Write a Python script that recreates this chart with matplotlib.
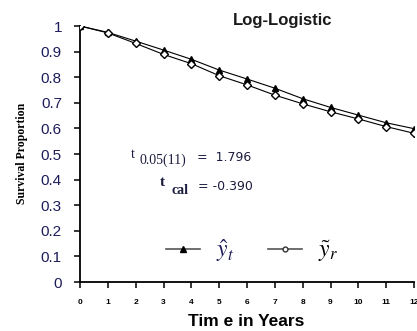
import numpy as np
import matplotlib
matplotlib.use("Agg")
import matplotlib.pyplot as plt
from matplotlib.lines import Line2D

plt.rcParams['font.family'] = ['Liberation Sans', 'DejaVu Sans']
plt.rcParams['mathtext.fontset'] = 'stix'

years = [0, 1, 2, 3, 4, 5, 6, 7, 8, 9, 10, 11, 12]
y_hat = [1.0, 0.975, 0.941, 0.906, 0.870, 0.828, 0.793, 0.757, 0.716, 0.682, 0.652, 0.622, 0.599]
y_tilde = [1.0, 0.973, 0.932, 0.889, 0.853, 0.806, 0.770, 0.730, 0.696, 0.665, 0.637, 0.607, 0.581]
y_ticks = [0, 0.1, 0.2, 0.3, 0.4, 0.5, 0.6, 0.7, 0.8, 0.9, 1]
t_table = "1.796"
t_cal = "-0.390"

W, H = 417, 331
fig = plt.figure(figsize=(W / 100, H / 100), dpi=100)
ax = fig.add_axes([80 / W, 1 - 282 / H, 334 / W, 256 / H])

ax.plot(years, y_hat, color='black', lw=0.8, marker='^', ms=5,
        markerfacecolor='black', markeredgecolor='black', zorder=3)
ax.plot(years, y_tilde, color='black', lw=0.8, marker='D', ms=4,
        markerfacecolor='white', markeredgecolor='black', zorder=3)

ax.set_xlim(0, 12)
ax.set_ylim(0, 1)
ax.set_xticks(years)
ax.set_yticks(y_ticks)
ax.set_yticklabels([f"{v:g}" for v in y_ticks])
ax.spines['top'].set_visible(False)
ax.spines['right'].set_visible(False)
ax.spines['left'].set_linewidth(1.3)
ax.spines['bottom'].set_linewidth(1.3)
ax.tick_params(axis='y', direction='out', length=4, width=1.1,
               labelsize=11, labelcolor='#1c1c5a', pad=9)
ax.tick_params(axis='x', direction='out', length=4, width=1.1,
               labelsize=6, pad=8)
for lab in ax.get_xticklabels():
    lab.set_fontweight('bold')
ax.patch.set_alpha(0)

fig.text(22 / W, 1 - 153 / H, 'Survival Proportion', rotation=90, ha='center', va='center',
         fontsize=8.5, fontweight='bold', family='Liberation Serif')
fig.text(246 / W, 1 - 322 / H, 'Tim e in Years', ha='center', va='center',
         fontsize=12.5, fontweight='bold')
fig.text(283 / W, 1 - 20 / H, 'Log-Logistic', ha='center', va='center',
         fontsize=12, fontweight='bold', color='#1a1a1a')

# t statistics
tc = '#1c1c40'
fig.text(131 / W, 1 - 158 / H, 't', fontsize=10, family='Liberation Serif',
         color=tc, va='baseline')
fig.text(139 / W, 1 - 164 / H, '0.05(11)', fontsize=10, family='Liberation Serif',
         color=tc, va='baseline')
fig.text(197 / W, 1 - 161 / H, '=  ' + t_table, fontsize=9, family='DejaVu Sans',
         color=tc, va='baseline')
fig.text(160 / W, 1 - 186 / H, 't', fontsize=11, family='Liberation Serif',
         fontweight='bold', color=tc, va='baseline')
fig.text(171 / W, 1 - 194 / H, 'cal', fontsize=10, family='Liberation Serif',
         fontweight='bold', color=tc, va='baseline')
fig.text(198 / W, 1 - 190 / H, '= ' + t_cal, fontsize=9, family='DejaVu Sans',
         color=tc, va='baseline')

handles = [
    Line2D([], [], color='#555555', lw=1.2, marker='^', ms=5,
           markerfacecolor='black', markeredgecolor='black'),
    Line2D([], [], color='#555555', lw=1.2, marker='o', ms=3.5,
           markerfacecolor='white', markeredgecolor='#333333'),
]
leg = ax.legend(handles, [r'$\hat{y}_t$', r'$\tilde{y}_r$'], ncol=2, frameon=False,
                loc='center', bbox_to_anchor=(0.515, 0.121), fontsize=17,
                handlelength=1.45, columnspacing=1.45, handletextpad=0.65,
                borderpad=0, borderaxespad=0)
leg.get_texts()[0].set_color('#1c1c5a')

fig.savefig('out.png', dpi=100)
